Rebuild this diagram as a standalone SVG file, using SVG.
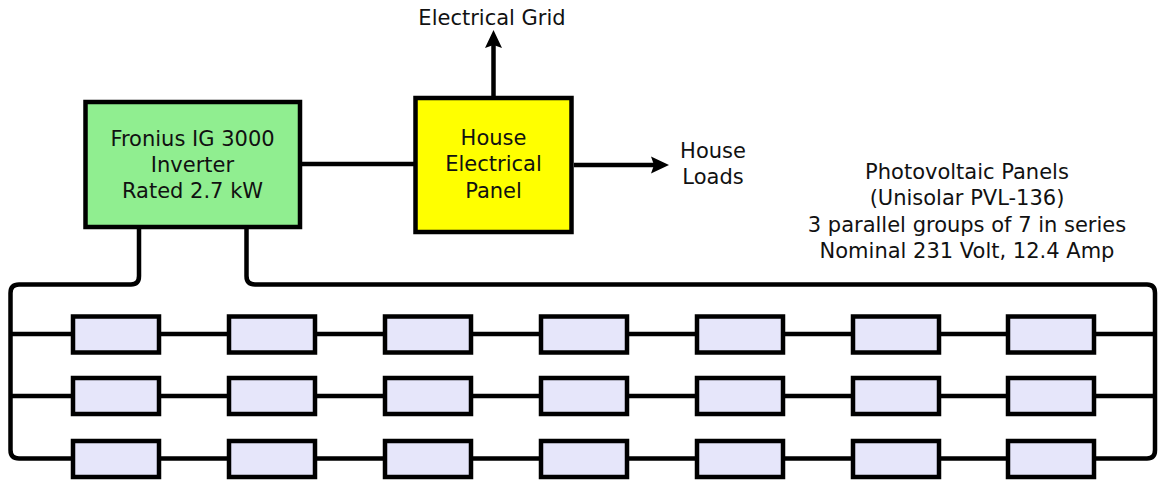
<svg xmlns="http://www.w3.org/2000/svg" width="1158" height="480" viewBox="0 0 1158 480">
<style>
text{font-family:"DejaVu Sans",sans-serif;font-size:21px;fill:#111;text-anchor:middle}
.n{stroke:#000;stroke-width:4.5}
.p{fill:#e6e6fa}
.c{fill:none;stroke:#000;stroke-width:4.5;stroke-linejoin:round}
</style>
<defs><marker id="a" markerUnits="userSpaceOnUse" markerWidth="20" markerHeight="18" refX="10" refY="9" orient="auto"><path d="M0 0.500L18 9L0 17.500L3 9Z" fill="#000"/></marker></defs>
<rect width="1158" height="480" fill="#fff"/>
<g id="connectors">
<path class="c" d="M139 229V276Q139 284.500 131 284.500H19Q10.500 284.500 10.500 293V450Q10.500 458.500 19 458.500H1147Q1155 458.500 1155 450V293Q1155 284.500 1147 284.500H255Q246.500 284.500 246.500 276V229"/>
<path class="c" d="M10.500 334H1155M10.500 396H1155"/>
<path class="c" d="M302 164H414"/>
<path class="c" d="M493.500 96V38" marker-end="url(#a)"/>
<path class="c" d="M574 165H661" marker-end="url(#a)"/>
</g>
<g id="inverter"><rect class="n" x="85.500" y="102" width="214.500" height="125" fill="#90ee90"/><text x="192.500" y="146">Fronius IG 3000</text><text x="192.500" y="172">Inverter</text><text x="192.500" y="198">Rated 2.7 kW</text></g>
<g id="house-panel"><rect class="n" x="415.500" y="98" width="156" height="134" fill="#ff0"/><text x="493.500" y="145">House</text><text x="493.500" y="171">Electrical</text><text x="493.500" y="198">Panel</text></g>
<g id="label-grid"><text x="492" y="25">Electrical Grid</text></g>
<g id="label-loads"><text x="713" y="158">House</text><text x="713" y="184">Loads</text></g>
<g id="label-pv"><text x="967" y="179">Photovoltaic Panels</text><text x="967" y="205">(Unisolar PVL-136)</text><text x="967" y="232">3 parallel groups of 7 in series</text><text x="967" y="258">Nominal 231 Volt, 12.4 Amp</text></g>
<g id="row-1">
<rect class="n p" x="73" y="316.500" width="86" height="36"/><rect class="n p" x="229" y="316.500" width="86" height="36"/><rect class="n p" x="385" y="316.500" width="86" height="36"/><rect class="n p" x="541" y="316.500" width="86" height="36"/><rect class="n p" x="697" y="316.500" width="86" height="36"/><rect class="n p" x="853" y="316.500" width="86" height="36"/><rect class="n p" x="1008" y="316.500" width="86" height="36"/>
</g>
<g id="row-2">
<rect class="n p" x="73" y="378" width="86" height="36"/><rect class="n p" x="229" y="378" width="86" height="36"/><rect class="n p" x="385" y="378" width="86" height="36"/><rect class="n p" x="541" y="378" width="86" height="36"/><rect class="n p" x="697" y="378" width="86" height="36"/><rect class="n p" x="853" y="378" width="86" height="36"/><rect class="n p" x="1008" y="378" width="86" height="36"/>
</g>
<g id="row-3">
<rect class="n p" x="73" y="441" width="86" height="36"/><rect class="n p" x="229" y="441" width="86" height="36"/><rect class="n p" x="385" y="441" width="86" height="36"/><rect class="n p" x="541" y="441" width="86" height="36"/><rect class="n p" x="697" y="441" width="86" height="36"/><rect class="n p" x="853" y="441" width="86" height="36"/><rect class="n p" x="1008" y="441" width="86" height="36"/>
</g>
</svg>
